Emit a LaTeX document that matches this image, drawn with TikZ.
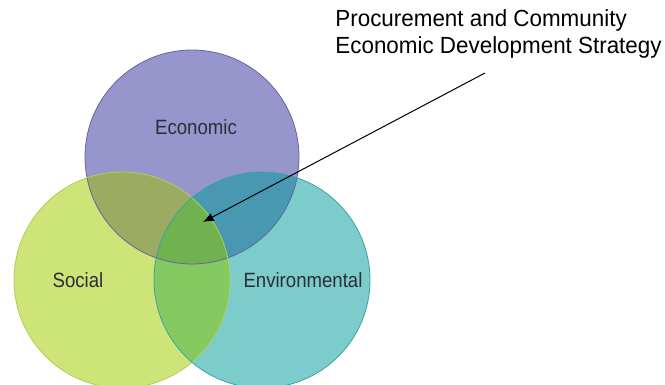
\documentclass[tikz,border=0pt]{standalone}
\usepackage{fontspec}
\setmainfont{Liberation Sans}
\usetikzlibrary{arrows.meta}

\definecolor{econfill}{RGB}{150,150,204}
\definecolor{socfill}{RGB}{204,228,120}
\definecolor{envfill}{RGB}{124,204,204}
\definecolor{econsoc}{RGB}{155,172,98}
\definecolor{econenv}{RGB}{72,152,178}
\definecolor{socenv}{RGB}{132,202,96}
\definecolor{allthree}{RGB}{112,178,80}
\definecolor{econline}{RGB}{100,100,165}
\definecolor{socline}{RGB}{175,208,85}
\definecolor{envline}{RGB}{60,162,168}
\definecolor{labelgray}{RGB}{45,45,60}

\tikzset{every picture/.style={line width=0.75pt}}
\tikzset{
  setlabel/.style={inner sep=0.75pt, text=labelgray, xscale=0.9, font=\fontsize{15.5}{18}\selectfont},
  titlelabel/.style={anchor=north west, inner sep=0.75pt, align=left, xscale=0.96, font=\fontsize{17.5}{20.2}\selectfont}
}

\begin{document}
\begin{tikzpicture}[x=0.75pt,y=0.75pt,yscale=-1,xscale=1]
\useasboundingbox (0,0) rectangle (665,385);

%Shape: Circles
\fill [econfill] (192,157) circle (107);
\fill [socfill] (122,280) circle (108);
\fill [envfill] (262,280) circle (108);

%Overlaps
\begin{scope}
  \clip (192,157) circle (107);
  \fill [econsoc] (122,280) circle (108);
  \fill [econenv] (262,280) circle (108);
\end{scope}
\begin{scope}
  \clip (122,280) circle (108);
  \fill [socenv] (262,280) circle (108);
  \clip (262,280) circle (108);
  \fill [allthree] (192,157) circle (107);
\end{scope}

%Outlines
\draw [econline, line width=0.6pt] (192,157) circle (107);
\draw [socline, line width=0.6pt] (122,280) circle (108);
\draw [envline, line width=0.6pt] (262,280) circle (108);

% Text Node
\node [setlabel] (econ) at (196,127) {Economic};
% Text Node
\node [setlabel] (soc) at (78,280) {Social};
% Text Node
\node [setlabel] (env) at (303,280) {Environmental};
% Text Node
\node [titlelabel] (strategy) at (334,8) {Procurement and Community\\Economic Development Strategy};

%Straight Lines
\coordinate (tail) at (485,73);
\coordinate (core) at (203,222);
\draw [-{Latex[length=8pt,width=6.5pt]}] (tail) -- (core);

\end{tikzpicture}
\end{document}
